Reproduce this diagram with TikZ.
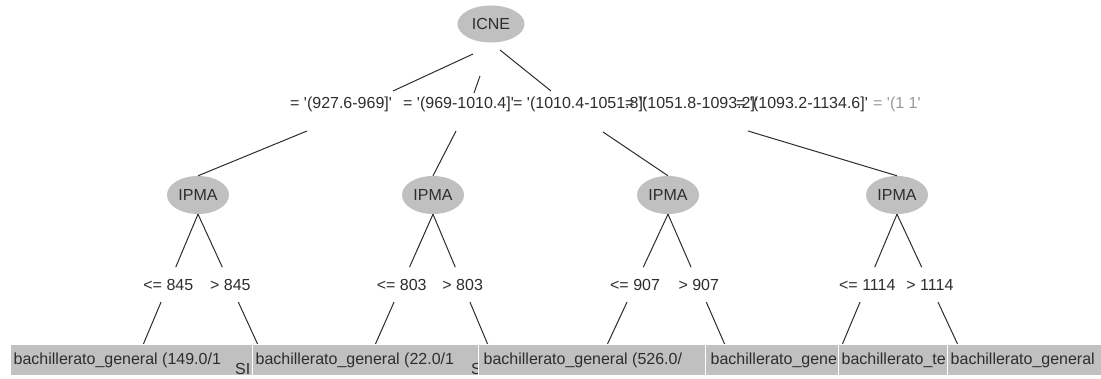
\documentclass[tikz,border=0pt]{standalone}
\usepackage{fontspec}
\newfontfamily\wekafont{Liberation Sans}
\usepackage{tikz}
\usetikzlibrary{calc,shapes.geometric}
\definecolor{wekagray}{RGB}{192,192,192}
\definecolor{inkgray}{RGB}{45,45,45}

\begin{document}
\begin{tikzpicture}[x=1pt, y=-1pt,
    font=\wekafont\fontsize{16}{19}\selectfont, text=inkgray,
    split/.style={ellipse, fill=wekagray, minimum width=62pt, minimum height=38pt, inner sep=0pt},
    leafbox/.style={rectangle, fill=wekagray, draw=white, line width=1pt, minimum height=31pt, inner sep=0pt},
    txt/.style={anchor=west, inner sep=0pt},
    cond/.style={inner sep=0pt},
    edge/.style={draw=inkgray, line width=1pt}]
    \useasboundingbox (0,0) rectangle (1101,379);
    \fill[white] (0,0) rectangle (1101,379);

    % Root
    \node[split, minimum width=67pt, minimum height=37pt] (icne) at (491,24) {ICNE};

    % Second level
    \node[split] (ipma1) at (198,195) {IPMA};
    \node[split] (ipma2) at (433,195) {IPMA};
    \node[split] (ipma3) at (668,195) {IPMA};
    \node[split] (ipma4) at (897,195) {IPMA};

    % Root branch labels (they overlap)
    \node[txt] (br1) at (290,104) {= '(927.6-969]'};
    \node[txt] (br2) at (403,104) {= '(969-1010.4]'};
    \node[txt] (br3) at (513,104) {= '(1010.4-1051.8]'};
    \node[txt] (br4) at (625,104) {= '(1051.8-1093.2]'};
    \node[txt] (br5) at (736,104) {= '(1093.2-1134.6]'};
    \node[txt, text=black!40] (br6) at (873,104) {= '(1 1'};

    % Root edges, cut by the labels
    \coordinate (a1) at (473,54);  \coordinate (b1) at (393,91);  \coordinate (c1) at (307,131);
    \coordinate (a2) at (480,76);  \coordinate (b2) at (474,93);  \coordinate (c2) at (456,131);
    \coordinate (a3) at (500,50);  \coordinate (b3) at (551,91);  \coordinate (c3) at (603,132);
    \coordinate (c4) at (748,131);
    \draw[edge] (a1) -- (b1);
    \draw[edge] (c1) -- (ipma1.north);
    \draw[edge] (a2) -- (b2);
    \draw[edge] (c2) -- (ipma2.north);
    \draw[edge] (a3) -- (b3);
    \draw[edge] (c3) -- (ipma3.north);
    \draw[edge] (c4) -- (ipma4.north);

    % Leaf ends of the lower edges
    \coordinate (lf1a) at (143,345); \coordinate (lf1b) at (258,345);
    \coordinate (lf2a) at (375,345); \coordinate (lf2b) at (488,345);
    \coordinate (lf3a) at (607,345); \coordinate (lf3b) at (725,345);
    \coordinate (lf4a) at (842,345); \coordinate (lf4b) at (958,345);

    % IPMA split labels
    \node[cond] (k1a) at ($(ipma1.south)!0.54!(lf1a)$) {<= 845};
    \node[cond] (k1b) at ($(ipma1.south)!0.54!(lf1b)$) {> 845};
    \node[cond] (k2a) at ($(ipma2.south)!0.54!(lf2a)$) {<= 803};
    \node[cond] (k2b) at ($(ipma2.south)!0.54!(lf2b)$) {> 803};
    \node[cond] (k3a) at ($(ipma3.south)!0.54!(lf3a)$) {<= 907};
    \node[cond] (k3b) at ($(ipma3.south)!0.54!(lf3b)$) {> 907};
    \node[cond] (k4a) at ($(ipma4.south)!0.54!(lf4a)$) {<= 1114};
    \node[cond] (k4b) at ($(ipma4.south)!0.54!(lf4b)$) {> 1114};

    % IPMA edges, cut by the labels
    \draw[edge] (ipma1.south) -- ($(ipma1.south)!0.405!(lf1a)$);
    \draw[edge] ($(ipma1.south)!0.672!(lf1a)$) -- (lf1a);
    \draw[edge] (ipma1.south) -- ($(ipma1.south)!0.405!(lf1b)$);
    \draw[edge] ($(ipma1.south)!0.672!(lf1b)$) -- (lf1b);
    \draw[edge] (ipma2.south) -- ($(ipma2.south)!0.405!(lf2a)$);
    \draw[edge] ($(ipma2.south)!0.672!(lf2a)$) -- (lf2a);
    \draw[edge] (ipma2.south) -- ($(ipma2.south)!0.405!(lf2b)$);
    \draw[edge] ($(ipma2.south)!0.672!(lf2b)$) -- (lf2b);
    \draw[edge] (ipma3.south) -- ($(ipma3.south)!0.405!(lf3a)$);
    \draw[edge] ($(ipma3.south)!0.672!(lf3a)$) -- (lf3a);
    \draw[edge] (ipma3.south) -- ($(ipma3.south)!0.405!(lf3b)$);
    \draw[edge] ($(ipma3.south)!0.672!(lf3b)$) -- (lf3b);
    \draw[edge] (ipma4.south) -- ($(ipma4.south)!0.405!(lf4a)$);
    \draw[edge] ($(ipma4.south)!0.672!(lf4a)$) -- (lf4a);
    \draw[edge] (ipma4.south) -- ($(ipma4.south)!0.405!(lf4b)$);
    \draw[edge] ($(ipma4.south)!0.672!(lf4b)$) -- (lf4b);

    % Leaves (each box covers what overflows from the one before)
    \node[leafbox, minimum width=242pt] (leaf1) at (131,360.5) {};
    \node[txt] at ([xshift=4pt]leaf1.west) {bachillerato\_general (149.0/1};
    \node[txt] at (235,369) {SI};
    \node[leafbox, minimum width=226pt] (leaf2) at (365,360.5) {};
    \node[txt] at ([xshift=4pt]leaf2.west) {bachillerato\_general (22.0/1};
    \node[txt] at (471,369) {S};
    \node[leafbox, minimum width=227pt] (leaf3) at (591.5,360.5) {};
    \node[txt] at ([xshift=6pt]leaf3.west) {bachillerato\_general (526.0/};
    \node[leafbox, minimum width=133pt] (leaf4) at (771.5,360.5) {};
    \node[txt] at ([xshift=6pt]leaf4.west) {bachillerato\_gene};
    \node[leafbox, minimum width=109pt] (leaf5) at (892.5,360.5) {};
    \node[txt] at ([xshift=4pt]leaf5.west) {bachillerato\_te};
    \node[leafbox, minimum width=154pt] (leaf6) at (1024,360.5) {};
    \node[txt] at ([xshift=4pt]leaf6.west) {bachillerato\_general};
\end{tikzpicture}
\end{document}
